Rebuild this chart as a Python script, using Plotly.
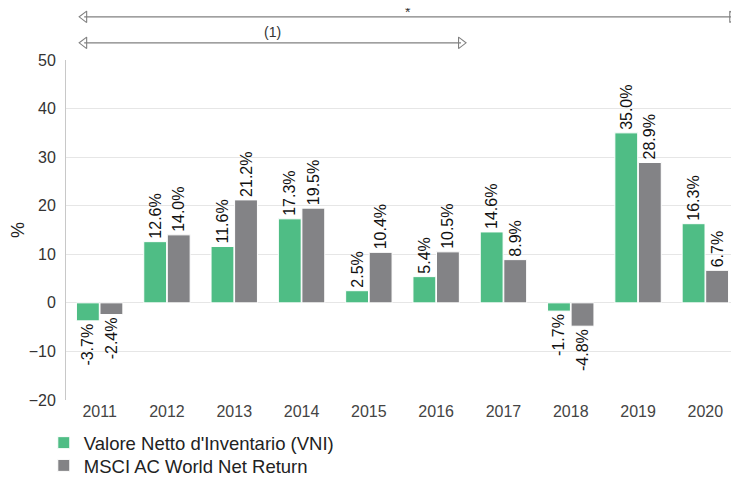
import plotly.graph_objects as go

years = [2011, 2012, 2013, 2014, 2015, 2016, 2017, 2018, 2019, 2020]
vni = [-3.7, 12.6, 11.6, 17.3, 2.5, 5.4, 14.6, -1.7, 35.0, 16.3]
msci = [-2.4, 14.0, 21.2, 19.5, 10.4, 10.5, 8.9, -4.8, 28.9, 6.7]

# period brackets drawn above the plot: (start, end, label)
periods = [(2010.77, 2020.40, "*"), (2010.77, 2016.37, "(1)")]
period_rows = [0.83, 0.33]
label_rows = [1.0, 0.53]
label_anchor = ["top", "middle"]
label_shift = [6, 0]

GREEN = "#4fbd85"
GREY = "#838386"

fig = go.Figure()
for name, vals, color, leg in [
    ("Valore Netto d'Inventario (VNI)", vni, GREEN, "legend"),
    ("MSCI AC World Net Return", msci, GREY, "legend2"),
]:
    fig.add_trace(
        go.Bar(
            x=years,
            y=vals,
            name=name,
            legend=leg,
            marker=dict(color=color, line=dict(color="white", width=1)),
            text=[f"{v:.1f}%" for v in vals],
            textposition="outside",
            textangle=-90,
            textfont=dict(size=16, color="#111"),
            cliponaxis=False,
        )
    )

for (x0, x1, label), row, lrow, anc, shift in zip(
    periods, period_rows, label_rows, label_anchor, label_shift
):
    fig.add_trace(
        go.Scatter(
            x=[x0, x1],
            y=[row, row],
            yaxis="y2",
            mode="lines+markers",
            line=dict(color="#808080", width=1.1),
            marker=dict(
                symbol=["triangle-left-open", "triangle-right-open"],
                size=10,
                color="#808080",
                line=dict(width=1.1),
            ),
            showlegend=False,
            hoverinfo="skip",
            cliponaxis=False,
        )
    )
    fig.add_annotation(
        x=(x0 + x1) / 2,
        y=lrow,
        yref="y2",
        text=label,
        showarrow=False,
        font=dict(size=14, color="#333"),
        yanchor=anc,
        yshift=shift,
    )

legend_style = dict(
    x=-0.033,
    xanchor="left",
    yanchor="middle",
    orientation="v",
    font=dict(size=18.5, color="#222"),
    itemwidth=30,
    bgcolor="rgba(0,0,0,0)",
)

# the page body adds an 8px offset, so the figure is 8px smaller each way
fig.update_layout(
    width=731,
    height=470,
    margin=dict(l=58, r=0, t=0, b=78, autoexpand=False),
    paper_bgcolor="white",
    plot_bgcolor="white",
    barmode="group",
    bargap=0.3,
    bargroupgap=0.03,
    uniformtext=dict(minsize=16, mode="show"),
    font=dict(family="Liberation Sans, Arial, sans-serif", color="#333"),
    xaxis=dict(
        type="linear",
        range=[2010.5, 2020.5],
        tickvals=years,
        ticktext=[str(y) for y in years],
        tickfont=dict(size=16, color="#444"),
        showgrid=False,
        zeroline=False,
        showline=False,
        ticks="",
    ),
    yaxis=dict(
        domain=[0, 0.8673],
        range=[-20, 50],
        tickvals=[-20, -10, 0, 10, 20, 30, 40, 50],
        tickfont=dict(size=16, color="#333"),
        ticklabelstandoff=6,
        gridcolor="#e6e6e6",
        zeroline=False,
        showline=True,
        linecolor="#c8c8c8",
        ticks="",
        title=dict(text="%", font=dict(size=18, color="#222"), standoff=14),
    ),
    yaxis2=dict(
        domain=[0.8673, 1],
        range=[0, 1],
        anchor="x",
        visible=False,
    ),
    legend=dict(legend_style, y=-0.11),
    legend2=dict(legend_style, y=-0.168),
    showlegend=True,
)

fig.write_html("out.html")
